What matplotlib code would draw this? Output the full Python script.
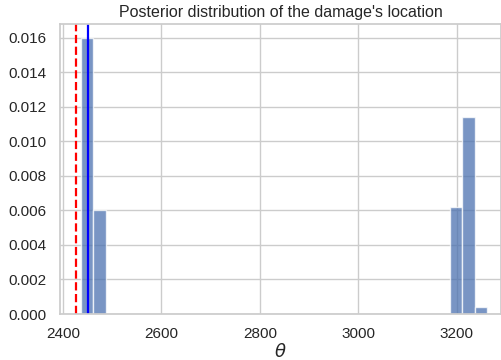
import matplotlib
matplotlib.use("Agg")
import matplotlib.pyplot as plt
import numpy as np
import seaborn as sns

# Histogram (density) bins
bin_edges_left = [2436.5, 2461.5, 3186.5, 3211.5, 3236.5]
bin_width = 25.0
densities = [0.0160, 0.0060, 0.0062, 0.0114, 0.0004]
true_location = 2426.0   # red dashed
estimate = 2450.0        # blue solid

sns.set_theme(style="whitegrid")
plt.rcParams['font.family'] = ['Liberation Sans', 'DejaVu Sans']

fig = plt.figure(figsize=(5.01, 3.60), dpi=100)
ax = fig.add_axes([60/501, (360-314)/360, (501-60)/501, (314-24)/360])

all_edges = np.arange(bin_edges_left[0], bin_edges_left[-1] + bin_width + 1, bin_width)
centers = [e + bin_width/2 for e in bin_edges_left]
ax.hist(centers, bins=all_edges, weights=densities, color="#4c72b0", alpha=0.75,
        edgecolor="white", linewidth=1)
ax.axvline(true_location, color="red", linestyle="--", linewidth=1.6)
ax.axvline(estimate, color="blue", linestyle="-", linewidth=1.6)

ax.set_xlim(2394, 3290)
ax.set_ylim(0, 0.0168)
ax.set_xticks([2400, 2600, 2800, 3000, 3200])
ax.set_yticks(np.arange(0, 0.0161, 0.002))
ax.yaxis.set_major_formatter(matplotlib.ticker.FormatStrFormatter('%.3f'))
ax.tick_params(labelsize=11)
ax.set_title("Posterior distribution of the damage's location", fontsize=11.5, pad=5)
ax.set_xlabel(r"$\theta$", fontsize=13, labelpad=1)

fig.savefig("out.png", dpi=100)
